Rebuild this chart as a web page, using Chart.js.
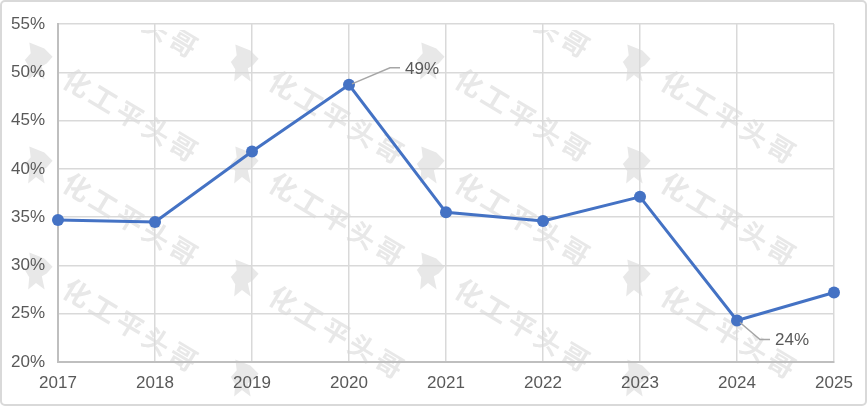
<!DOCTYPE html>
<html lang="zh-CN">
<head>
<meta charset="UTF-8">
<title>化工平头哥</title>
<script src="https://cdn.jsdelivr.net/npm/chart.js"></script>
<style>
  html, body { margin: 0; padding: 0; background: #fff; }
  #wrap { width: 867px; height: 406px; position: relative; }
</style>
</head>
<body>
<div id="wrap"><canvas id="grafico" width="867" height="406"></canvas></div>
<script>
// dados
var anos = ["2017", "2018", "2019", "2020", "2021", "2022", "2023", "2024", "2025"];
var valores = [34.7, 34.5, 41.8, 48.7, 35.5, 34.6, 37.1, 24.3, 27.2];
var rotulos = ["", "", "", "49%", "", "", "", "24%", ""];
var eixoY = { min: 20, max: 55, passo: 5 };

var corTexto = "#595959";
var fonte = "'Liberation Sans', Arial, sans-serif";

// fundo, moldura e marca d'água
var fundo = {
    id: "fundo",
    beforeDraw: function (chart) {
        var c = chart.ctx;
        c.save();
        c.fillStyle = "#fff";
        c.fillRect(0, 0, chart.width, chart.height);
        c.strokeStyle = "#d9d9d9";
        c.lineWidth = 2;
        c.beginPath();
        c.roundRect(1, 1, chart.width - 2, chart.height - 2, 4);
        c.stroke();

        // colunas ímpares e pares têm linhas um pouco diferentes
        var marcas = [
            { x: 77, ys: [-21, 83, 187, 293] },
            { x: 283, ys: [85, 187, 300, 400] },
            { x: 469, ys: [-21, 83, 187, 293] },
            { x: 675, ys: [85, 187, 300, 400] }
        ];
        var texto = "化工平头哥";
        c.beginPath();
        c.rect(0, 30, chart.width, chart.height - 30);
        c.clip();
        c.fillStyle = "#e8e8e8";
        c.font = "bold 27px 'Noto Sans CJK SC', sans-serif";
        c.textAlign = "center";
        c.textBaseline = "middle";
        marcas.forEach(function (m) {
            m.ys.forEach(function (y) {
                var x = m.x;
                // bichinho
                c.save();
                c.translate(x - 40, y - 22);
                c.rotate(0.25);
                c.beginPath();
                c.moveTo(-12, -16);
                c.lineTo(4, -14);
                c.lineTo(14, -8);
                c.lineTo(10, 0);
                c.lineTo(6, 4);
                c.lineTo(12, 16);
                c.lineTo(2, 12);
                c.lineTo(-4, 20);
                c.lineTo(-6, 8);
                c.lineTo(-12, 2);
                c.lineTo(-8, -6);
                c.closePath();
                c.fill();
                c.restore();
                // texto (a última linha só mostra o bichinho)
                if (y > 380) return;
                c.save();
                c.translate(x, y);
                c.rotate(31 * Math.PI / 180);
                for (var k = 0; k < texto.length; k++) {
                    c.fillText(texto[k], k * 31, 0);
                }
                c.restore();
            });
        });
        c.restore();
    }
};

// rótulos com linha de chamada
var chamadas = {
    id: "chamadas",
    afterDatasetsDraw: function (chart) {
        var c = chart.ctx;
        var xs = chart.scales.x, ys = chart.scales.y;
        c.save();
        c.font = "17px " + fonte;
        c.fillStyle = corTexto;
        c.textBaseline = "middle";
        c.textAlign = "left";
        c.strokeStyle = "#a6a6a6";
        c.lineWidth = 1.5;
        for (var i = 0; i < rotulos.length; i++) {
            if (!rotulos[i]) continue;
            var px = xs.getPixelForValue(i);
            var py = ys.getPixelForValue(valores[i]);
            var sobe = valores[i] > 40;
            var dx1 = sobe ? 41 : 23, dy1 = sobe ? -17 : 19;
            c.beginPath();
            c.moveTo(px + 3, py + (sobe ? -1 : 2));
            c.lineTo(px + dx1, py + dy1);
            c.lineTo(px + dx1 + 10, py + dy1);
            c.stroke();
            c.fillText(rotulos[i], px + dx1 + 15, py + dy1 + 1);
        }
        c.restore();
    }
};

new Chart(document.getElementById("grafico"), {
    type: "line",
    data: {
        labels: anos,
        datasets: [{
            data: valores,
            borderColor: "#4472C4",
            backgroundColor: "#4472C4",
            borderWidth: 3,
            pointRadius: 6,
            pointHoverRadius: 6,
            pointBorderWidth: 0,
            tension: 0
        }]
    },
    options: {
        responsive: false,
        animation: false,
        events: [],
        layout: { padding: { left: 0, right: 33, top: 24, bottom: 0 } },
        plugins: {
            legend: { display: false },
            tooltip: { enabled: false }
        },
        scales: {
            x: {
                offset: false,
                afterFit: function (s) { s.height = 44; },
                grid: { color: "#d9d9d9", lineWidth: 1.5, drawTicks: false },
                border: { color: "#bfbfbf", width: 2 },
                ticks: { color: corTexto, font: { size: 17, family: fonte }, padding: 11, maxRotation: 0 }
            },
            y: {
                min: eixoY.min,
                max: eixoY.max,
                afterFit: function (s) { s.width = 58; },
                grid: { color: "#d9d9d9", lineWidth: 1.5, drawTicks: false },
                border: { color: "#bfbfbf", width: 2 },
                ticks: {
                    stepSize: eixoY.passo,
                    color: corTexto,
                    font: { size: 17, family: fonte },
                    padding: 13,
                    callback: function (v) { return v + "%"; }
                }
            }
        }
    },
    plugins: [fundo, chamadas]
});
</script>
</body>
</html>
